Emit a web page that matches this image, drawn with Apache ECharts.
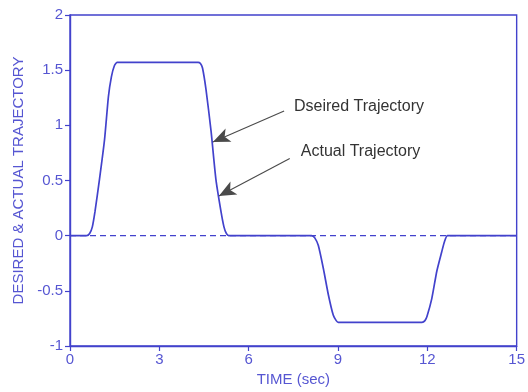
<!DOCTYPE html>
<html><head><meta charset="utf-8">
<script src="https://cdn.jsdelivr.net/npm/echarts@6/dist/echarts.min.js"></script>
<style>html,body{margin:0;padding:0;background:#fff}#c{width:528px;height:392px}</style>
</head><body><div id="c"></div>
<script>
const timeSec = [0, 0.56, 0.66, 0.75, 0.84, 0.99, 1.16, 1.29, 1.39, 1.49, 1.58, 1.66, 4.30, 4.38, 4.45, 4.57, 4.74, 4.90, 5.07, 5.17, 5.25, 5.33, 8.11, 8.22, 8.34, 8.51, 8.68, 8.84, 8.94, 9.01, 11.82, 11.92, 11.99, 12.15, 12.32, 12.48, 12.58, 12.68, 15];
const trajectory = [0, 0, 0.02, 0.08, 0.22, 0.51, 0.87, 1.26, 1.44, 1.54, 1.57, 1.57, 1.57, 1.56, 1.52, 1.32, 0.94, 0.51, 0.22, 0.08, 0.02, 0, 0, -0.02, -0.09, -0.30, -0.54, -0.72, -0.77, -0.785, -0.785, -0.77, -0.73, -0.57, -0.32, -0.15, -0.05, 0, 0];
const xTicks = [0, 3, 6, 9, 12, 15];
const yTicks = [-1, -0.5, 0, 0.5, 1, 1.5, 2];
const notes = [
  {text: 'Dseired Trajectory', label: [7.52, 1.17], tail: [7.19, 1.13], tip: [4.80, 0.85]},
  {text: 'Actual Trajectory', label: [7.75, 0.76], tail: [7.38, 0.70], tip: [5.00, 0.36]}
];
const blue = '#4242cc';
const txt = '#5656d2';
const chart = echarts.init(document.getElementById('c'));
chart.setOption({
  animation: false,
  grid: {left: 70, right: 5, top: 15, bottom: 44, show: true, borderColor: blue, borderWidth: 1.4},
  xAxis: {
    type: 'value', min: xTicks[0], max: xTicks[xTicks.length-1], interval: 3,
    name: 'TIME (sec)', nameLocation: 'middle', nameGap: 26,
    nameTextStyle: {color: txt, fontFamily: 'Liberation Sans', fontSize: 15},
    axisLine: {onZero: false, lineStyle: {color: blue, width: 1.4}},
    axisTick: {inside: false, length: 5, lineStyle: {color: blue, width: 1.2}},
    axisLabel: {color: txt, fontFamily: 'Liberation Sans', fontSize: 15, margin: 6},
    splitLine: {show: false}
  },
  yAxis: {
    type: 'value', min: yTicks[0], max: yTicks[yTicks.length-1], interval: 0.5,
    name: 'DESIRED & ACTUAL TRAJECTORY', nameLocation: 'middle', nameGap: 44,
    nameTextStyle: {color: txt, fontFamily: 'Liberation Sans', fontSize: 15},
    axisLine: {onZero: false, lineStyle: {color: blue, width: 1.4}},
    axisTick: {inside: false, length: 5, lineStyle: {color: blue, width: 1.2}},
    axisLabel: {color: txt, fontFamily: 'Liberation Sans', fontSize: 15, margin: 7},
    splitLine: {show: false}
  },
  series: [
    {
      type: 'line', data: [[xTicks[0], 0], [xTicks[xTicks.length-1], 0]], symbol: 'none',
      lineStyle: {color: blue, width: 1.3, type: [6, 4]}, z: 1
    },
    {
      type: 'line', data: timeSec.map((t, i) => [t, trajectory[i]]), symbol: 'none',
      smooth: 0.2,
      lineStyle: {color: blue, width: 1.7}, z: 3,
      markLine: {
        silent: true, animation: false,
        symbol: ['none', 'arrow'], symbolSize: [11, 17],
        lineStyle: {color: '#4a4a4a', width: 1.1, type: 'solid'},
        itemStyle: {color: '#111'},
        label: {show: false},
        data: notes.map(n => [{coord: n.tail}, {coord: n.tip}])
      },
      markPoint: {
        silent: true, symbol: 'circle', symbolSize: 0,
        label: {show: true, position: 'right', distance: 0, color: '#333', fontFamily: 'Liberation Sans', fontSize: 16,
          formatter: p => p.name},
        data: notes.map(n => ({name: n.text, coord: n.label}))
      }
    }
  ]
});
</script></body></html>
